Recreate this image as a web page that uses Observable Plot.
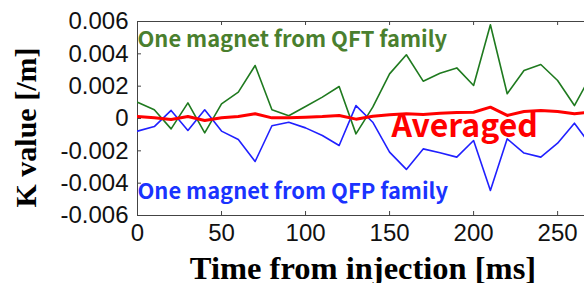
<!DOCTYPE html>
<html><head><meta charset="utf-8">
<script src="https://cdn.jsdelivr.net/npm/d3@7"></script>
<script src="https://cdn.jsdelivr.net/npm/@observablehq/plot@0.6"></script>
<style>body{margin:0;background:#fff;overflow:hidden}</style>
</head><body><div id="chart"></div>
<script>
const timesMs = [0,10,20,30,40,50,60,70,80,90,100,110,120,130,140,150,160,170,180,190,200,210,220,230,240,250,260,270];
const qftK = [0.00101,0.00054,-0.00064,0.00097,-0.00089,0.00091,0.00163,0.00328,0.00054,0.00017,0.00074,0.00132,0.00198,-0.00095,0.0007,0.00276,0.00394,0.00231,0.0028,0.00313,0.00204,0.0058,0.00153,0.00297,0.00334,0.00235,0.0008,0.0027];
const qfpK = [-0.00078,-0.0005,0.0005,-0.00074,0.00054,-0.00078,-0.0013,-0.00266,-0.00045,-0.00023,-0.00058,-0.00105,-0.00167,0.0008,-0.00023,-0.00208,-0.00315,-0.00188,-0.00212,-0.00239,-0.00136,-0.00445,-0.00126,-0.00214,-0.00239,-0.00153,-0.00029,-0.0017];
const averagedK = [0.00012,0.00004,-0.00006,0.00012,-0.00012,0.00004,0.00012,0.00029,0.00004,0.00004,0.00008,0.00012,0.00019,-0.00004,0.00014,0.00023,0.0003,0.00025,0.00033,0.00037,0.00039,0.0007,0.00019,0.00043,0.0005,0.00043,0.00029,0.0004];
const xTicks = [0,50,100,150,200,250];
const yTicks = [-0.006,-0.004,-0.002,0,0.002,0.004,0.006];
const xDomain = [0,266];
const yDomain = [-0.006,0.006];
const labelQFT = "One magnet from QFT family";
const labelQFP = "One magnet from QFP family";
const labelAvg = "Averaged";
const xTitle = "Time from injection [ms]";
const yTitle = "K value [/m]";

const rows = (ys) => timesMs.map((t,i) => ({t, k: ys[i]}));
const fmtY = d => d === 0 ? "0" : d.toFixed(3);
const W = 584, H = 283, mL = 137, mR = 0, mT = 21, mB = 68;
const tickLen = 4;
const frameW = W - mL - mR, frameH = H - mT - mB;

const chart = Plot.plot({
  width: W, height: H,
  marginLeft: mL, marginRight: mR, marginTop: mT, marginBottom: mB,
  style: {fontFamily: "Liberation Sans, Arial, sans-serif", fontSize: "24px", color: "#111", background: "#fff", overflow: "visible"},
  x: {domain: xDomain},
  y: {domain: yDomain},
  marks: [
    Plot.frame({stroke: "#444", strokeWidth: 1}),
    Plot.axisX(xTicks, {anchor: "bottom", tickSize: 0, tickPadding: 8, fill: "#111", label: null}),
    Plot.axisY(yTicks, {anchor: "left", tickSize: 0, tickPadding: 9, tickFormat: fmtY, fill: "#111", label: null}),
    Plot.tickX(xTicks, {x: d => d, insetTop: frameH - tickLen, stroke: "#444"}),
    Plot.tickX(xTicks, {x: d => d, insetBottom: frameH - tickLen, stroke: "#444"}),
    Plot.tickY(yTicks, {y: d => d, insetRight: frameW - tickLen, stroke: "#444"}),
    Plot.line(rows(qftK), {x: "t", y: "k", stroke: "#1f7a1f", strokeWidth: 1.6, clip: true}),
    Plot.line(rows(qfpK), {x: "t", y: "k", stroke: "#2020ff", strokeWidth: 1.6, clip: true}),
    Plot.line(rows(averagedK), {x: "t", y: "k", stroke: "#ff0000", strokeWidth: 3, clip: true}),
    Plot.text([labelQFT], {text: d => d, frameAnchor: "top-left", textAnchor: "start", lineAnchor: "bottom", dx: 0, dy: 25, fill: "#4a7f2e", fontWeight: "bold", fontSize: 21.9, fontFamily: "Noto Sans CJK JP, Noto Sans, sans-serif"}),
    Plot.text([labelQFP], {text: d => d, frameAnchor: "bottom-left", textAnchor: "start", lineAnchor: "bottom", dx: 0, dy: -17, fill: "#1a33ff", fontWeight: "bold", fontSize: 21.9, fontFamily: "Noto Sans CJK JP, Noto Sans, sans-serif"}),
    Plot.text([labelAvg], {text: d => d, frameAnchor: "left", textAnchor: "start", lineAnchor: "bottom", dx: 254, dy: 18, fill: "#ff0000", fontWeight: "bold", fontSize: 32, fontFamily: "Noto Sans CJK JP, Noto Sans, sans-serif"}),
    Plot.text([xTitle], {text: d => d, frameAnchor: "bottom", textAnchor: "middle", lineAnchor: "bottom", dx: 2, dy: 63, fill: "#000", fontWeight: "bold", fontSize: 32.5, fontFamily: "Liberation Serif, Times New Roman, serif"}),
    Plot.text([yTitle], {text: d => d, frameAnchor: "left", textAnchor: "middle", lineAnchor: "middle", rotate: -90, dx: -111, dy: 9, fill: "#000", fontWeight: "bold", fontSize: 30, fontFamily: "Liberation Serif, Times New Roman, serif"})
  ]
});
document.getElementById("chart").appendChild(chart);
</script>
</body></html>
